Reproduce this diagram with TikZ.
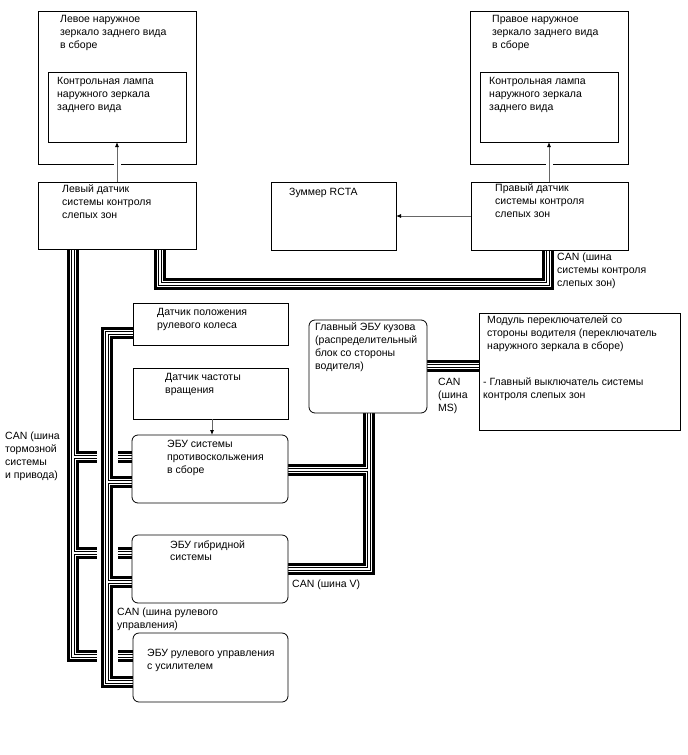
\documentclass[tikz,border=0pt]{standalone}
\usepackage{fontspec}
\setmainfont{Liberation Sans}
\usetikzlibrary{arrows.meta}
\pgfdeclarelayer{bg}
\pgfdeclarelayer{paper}
\pgfsetlayers{paper,bg,main}
\newcommand\busnet[1]{%
  \draw[#1] (ls.south -| bsmA) -- (bsmA) -- (bsmB) -- (rs.south -| bsmB);
  \draw[#1] (ls.south -| aC) -- (aC) -- (aE3);
  \draw[#1] (aT1) -- (aE1);
  \draw[#1] (aT2) -- (aE2);
  \draw[#1] (aS1) -- (skid.west |- aS1);
  \draw[#1] (aS2) -- (hyb.west |- aS2);
  \draw[#1] (aS3) -- (eps.west |- aS3);
  \draw[#1] (steer.west |- bT0) -- (bT0) -- (bT3) -- (eps.west |- bT3);
  \draw[#1] (bT1) -- (skid.west |- bT1);
  \draw[#1] (bT2) -- (hyb.west |- bT2);
  \draw[#1] (mbe.south -| vT2) -- (vT2) -- (hyb.east |- vT2);
  \draw[#1] (vT1) -- (skid.east |- vT1);
  \draw[#1] (mbe.east |- msY) -- (sw.west |- msY);
}
\begin{document}
\begin{tikzpicture}[x=1pt,y=-1pt,
  box/.style={draw=black, line width=0.8pt, fill=white, anchor=north west, inner sep=0pt, outer sep=0pt},
  rbox/.style={box, rounded corners=6pt},
  txt/.style={anchor=north west, inner sep=0pt, align=left, font=\fontsize{10.5}{12.8}\selectfont},
  sig/.style={draw=black!60, line width=0.8pt, -{Latex[length=5pt,width=4pt,black]}},
]
\begin{pgfonlayer}{paper}
\fill[white] (0,0) rectangle (688,755);
\end{pgfonlayer}
\useasboundingbox (0,0) rectangle (688,755);

% boxes
\node[box, minimum width=158pt, minimum height=153pt] (lmo) at (38,11) {};
\node[box, minimum width=138pt, minimum height=70pt] (lml) at (48,72) {};
\node[box, minimum width=158pt, minimum height=67pt] (ls) at (38,182) {};
\node[box, minimum width=158pt, minimum height=153pt] (rmo) at (470,11) {};
\node[box, minimum width=138pt, minimum height=70pt] (rml) at (480,72) {};
\node[box, minimum width=157pt, minimum height=68pt] (rs) at (471,182) {};
\node[box, minimum width=125pt, minimum height=68pt] (buz) at (271,182) {};
\node[box, minimum width=155pt, minimum height=42pt] (steer) at (133,303) {};
\node[box, minimum width=155pt, minimum height=51pt] (speed) at (133,368) {};
\node[rbox, minimum width=156pt, minimum height=68pt] (skid) at (132,435) {};
\node[rbox, minimum width=156pt, minimum height=68pt] (hyb) at (132,535) {};
\node[rbox, minimum width=155pt, minimum height=69pt] (eps) at (133,633) {};
\node[rbox, minimum width=118pt, minimum height=93pt] (mbe) at (309,320) {};
\node[box, minimum width=201pt, minimum height=117pt] (sw) at (479,313) {};

% texts
\node[txt] (t1) at (60,15) {Левое наружное\\зеркало заднего вида\\в сборе};
\node[txt] (t2) at (57,77) {Контрольная лампа\\наружного зеркала\\заднего вида};
\node[txt] (t3) at (62,185) {Левый датчик\\системы контроля\\слепых зон};
\node[txt] (t4) at (492,15) {Правое наружное\\зеркало заднего вида\\в сборе};
\node[txt] (t5) at (489,77) {Контрольная лампа\\наружного зеркала\\заднего вида};
\node[txt] (t6) at (495,184) {Правый датчик\\системы контроля\\слепых зон};
\node[txt] (t7) at (289,188) {Зуммер RCTA};
\node[txt] (t8) at (557,253) {CAN (шина\\системы контроля\\слепых зон)};
\node[txt] (t9) at (157,308) {Датчик положения\\рулевого колеса};
\node[txt] (t10) at (165,373) {Датчик частоты\\вращения};
\node[txt] (t11) at (167,440) {ЭБУ системы\\противоскольжения\\в сборе};
\node[txt] (t12) at (170,540) {ЭБУ гибридной\\системы};
\node[txt] (t13) at (147,649) {ЭБУ рулевого управления\\с усилителем};
\node[txt] (t14) at (315,323) {Главный ЭБУ кузова\\(распределительный\\блок со стороны\\водителя)};
\node[txt] (t15) at (487,316) {Модуль переключателей со\\стороны водителя (переключатель\\наружного зеркала в сборе)};
\node[txt] (t16) at (483,378) {- Главный выключатель системы\\контроля слепых зон};
\node[txt] (t17) at (438,378) {CAN\\(шина\\MS)};
\node[txt] (t18) at (292,580) {CAN (шина V)};
\node[txt] (t19) at (117,608) {CAN (шина рулевого\\управления)};
\node[txt] (t20) at (5,432) {CAN (шина\\тормозной\\системы\\и привода)};

% bus coordinates
\coordinate (bsmA) at (160,284);
\coordinate (bsmB) at (548,284);
\coordinate (aC) at (73,656);
\coordinate (aE3) at (97,656);
\coordinate (aT1) at (73,457);
\coordinate (aE1) at (97,457);
\coordinate (aT2) at (73,553);
\coordinate (aE2) at (97,553);
\coordinate (aS1) at (118,457);
\coordinate (aS2) at (118,553);
\coordinate (aS3) at (118,656);
\coordinate (bT0) at (107,333);
\coordinate (bT1) at (107,482);
\coordinate (bT2) at (107,582);
\coordinate (bT3) at (107,682);
\coordinate (vT1) at (369,470);
\coordinate (vT2) at (369,569);
\coordinate (msY) at (0,366);

\begin{pgfonlayer}{bg}
\busnet{line width=12pt, black}
\busnet{line width=6pt, white}
\busnet{line width=4pt, black}
\busnet{line width=2pt, white}
\end{pgfonlayer}

% gaps in outer mirror boxes
\draw[white, line width=2pt] (113.5,164) -- (120.5,164);
\draw[white, line width=2pt] (545.5,164) -- (552.5,164);

% signal arrows
\coordinate (xl) at (117,0);
\coordinate (xr) at (549,0);
\coordinate (ya) at (0,216);
\coordinate (xs) at (212,0);
\draw[sig] (ls.north -| xl) -- (lml.south -| xl);
\draw[sig] (rs.north -| xr) -- (rml.south -| xr);
\draw[sig] (rs.west |- ya) -- (buz.east |- ya);
\draw[sig] (speed.south -| xs) -- (skid.north -| xs);
\end{tikzpicture}
\end{document}
